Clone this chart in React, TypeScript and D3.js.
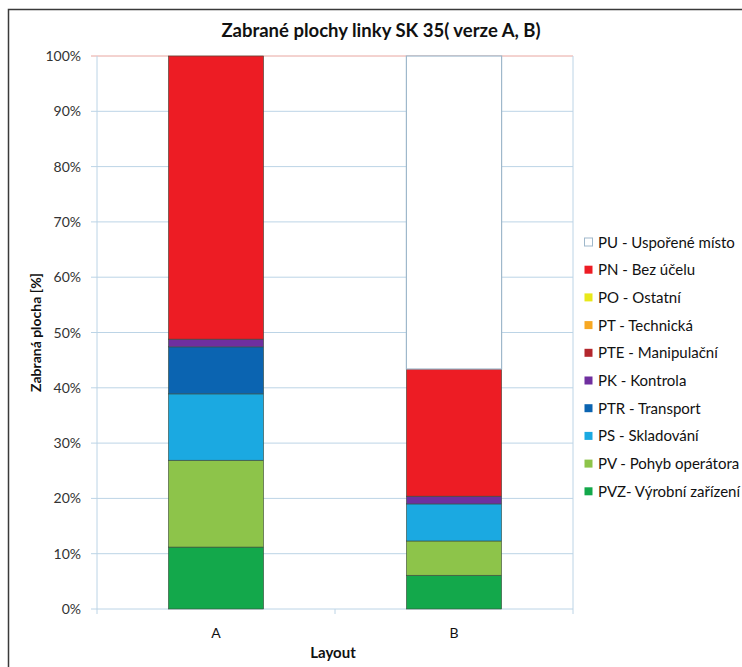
import React from "react";
import * as d3 from "d3";

const categories = ["A", "B"];
const seriesNames = [
  "PVZ- Výrobní zařízení",
  "PV - Pohyb operátora",
  "PS - Skladování",
  "PTR - Transport",
  "PK - Kontrola",
  "PTE - Manipulační",
  "PT - Technická",
  "PO - Ostatní",
  "PN - Bez účelu",
  "PU - Uspořené místo",
];
const seriesColors = [
  "#13a84b",
  "#8dc44a",
  "#1ba9e1",
  "#0b64b1",
  "#6f2f9f",
  "#b3272d",
  "#f7a823",
  "#e8e81a",
  "#ed1c24",
  "#ffffff",
];
// values per series, [A, B] in %
const valuesA = [11.2, 15.7, 12.0, 8.5, 1.4, 0, 0, 0, 51.2, 0];
const valuesB = [6.1, 6.2, 6.7, 0, 1.4, 0, 0, 0, 23.0, 56.6];
const yTicks = [0, 10, 20, 30, 40, 50, 60, 70, 80, 90, 100];

const W = 742;
const H = 667;
const M = { left: 97, right: 573, top: 56, bottom: 609 };
const FONT = "Lato, 'Open Sans', sans-serif";

export default function App() {
  const x = d3
    .scaleBand<string>()
    .domain(categories)
    .range([M.left, M.right])
    .paddingInner(0.6)
    .paddingOuter(0.3);
  const y = d3.scaleLinear().domain([0, 100]).range([M.bottom, M.top]);

  const rows = categories.map((c, i) => {
    const r: any = { cat: c };
    seriesNames.forEach((s, j) => {
      r[s] = i === 0 ? valuesA[j] : valuesB[j];
    });
    return r;
  });
  const stacked = d3.stack<any>().keys(seriesNames)(rows);

  const band = (M.right - M.left) / categories.length;
  const legendOrder = seriesNames.map((_, i) => i).reverse();

  return (
    <svg width={W} height={H} style={{ display: "block", position: "absolute", left: 0, top: 0 }}>
      <rect x={0} y={0} width={W} height={H} fill="#ffffff" />
      <path d={`M8.5,${H + 2} L8.5,9.5 L${W + 2},9.5`} fill="none" stroke="#3a3a3a" strokeWidth={1.5} />
      <text x={381} y={37} textAnchor="middle" fontFamily={FONT} fontWeight="bold" fontSize={18.5} fill="#111">
        Zabrané plochy linky SK 35( verze A, B)
      </text>
      {/* gridlines */}
      {yTicks.map((t) => (
        <line key={t} x1={M.left - 6} x2={M.right} y1={y(t)} y2={y(t)} stroke={t === 100 ? "#e8a6a0" : "#bcd4e6"} strokeWidth={1} />
      ))}
      <line x1={M.left} x2={M.left} y1={M.top} y2={M.bottom} stroke="#bcd4e6" />
      <line x1={M.right} x2={M.right} y1={M.top} y2={M.bottom} stroke="#bcd4e6" />
      {d3.range(categories.length + 1).map((i) => (
        <line key={i} x1={M.left + band * i} x2={M.left + band * i} y1={M.bottom} y2={M.bottom + 5} stroke="#bcd4e6" />
      ))}
      {yTicks.map((t) => (
        <text key={t} x={81} y={y(t) + 5} textAnchor="end" fontFamily={FONT} fontSize={14} fill="#333">
          {t}%
        </text>
      ))}
      {/* bars */}
      {stacked.map((layer, j) => (
        <g key={layer.key}>
          {layer.map((d, i) => {
            const h = y(d[0]) - y(d[1]);
            if (h <= 0) return null;
            const isPU = j === seriesNames.length - 1;
            return (
              <rect
                key={i}
                x={x(categories[i])!}
                width={x.bandwidth()}
                y={y(d[1])}
                height={h}
                fill={seriesColors[j]}
                stroke={isPU ? "#9fb8cb" : "#3b4a3b"}
                strokeWidth={isPU ? 1.2 : 0.6}
              />
            );
          })}
        </g>
      ))}
      {categories.map((c) => (
        <text key={c} x={x(c)! + x.bandwidth() / 2} y={638} textAnchor="middle" fontFamily={FONT} fontSize={14} fill="#111">
          {c}
        </text>
      ))}
      <text x={333} y={658} textAnchor="middle" fontFamily={FONT} fontWeight="bold" fontSize={15} fill="#111">
        Layout
      </text>
      <text
        transform={`translate(41,${(265 + 400) / 2}) rotate(-90)`}
        textAnchor="middle"
        fontFamily={FONT}
        fontWeight="bold"
        fontSize={14}
        fill="#111"
      >
        Zabraná plocha [%]
      </text>
      {/* legend */}
      {legendOrder.map((j, k) => (
        <g key={j} transform={`translate(584,${242 + k * 27.7})`}>
          <rect x={0.5} y={-4} width={8} height={8} fill={seriesColors[j]} stroke={j === seriesNames.length - 1 ? "#9fb8cb" : "none"} />
          <text x={14} y={5.5} fontFamily={FONT} fontSize={15} fill="#111">
            {seriesNames[j]}
          </text>
        </g>
      ))}
    </svg>
  );
}
